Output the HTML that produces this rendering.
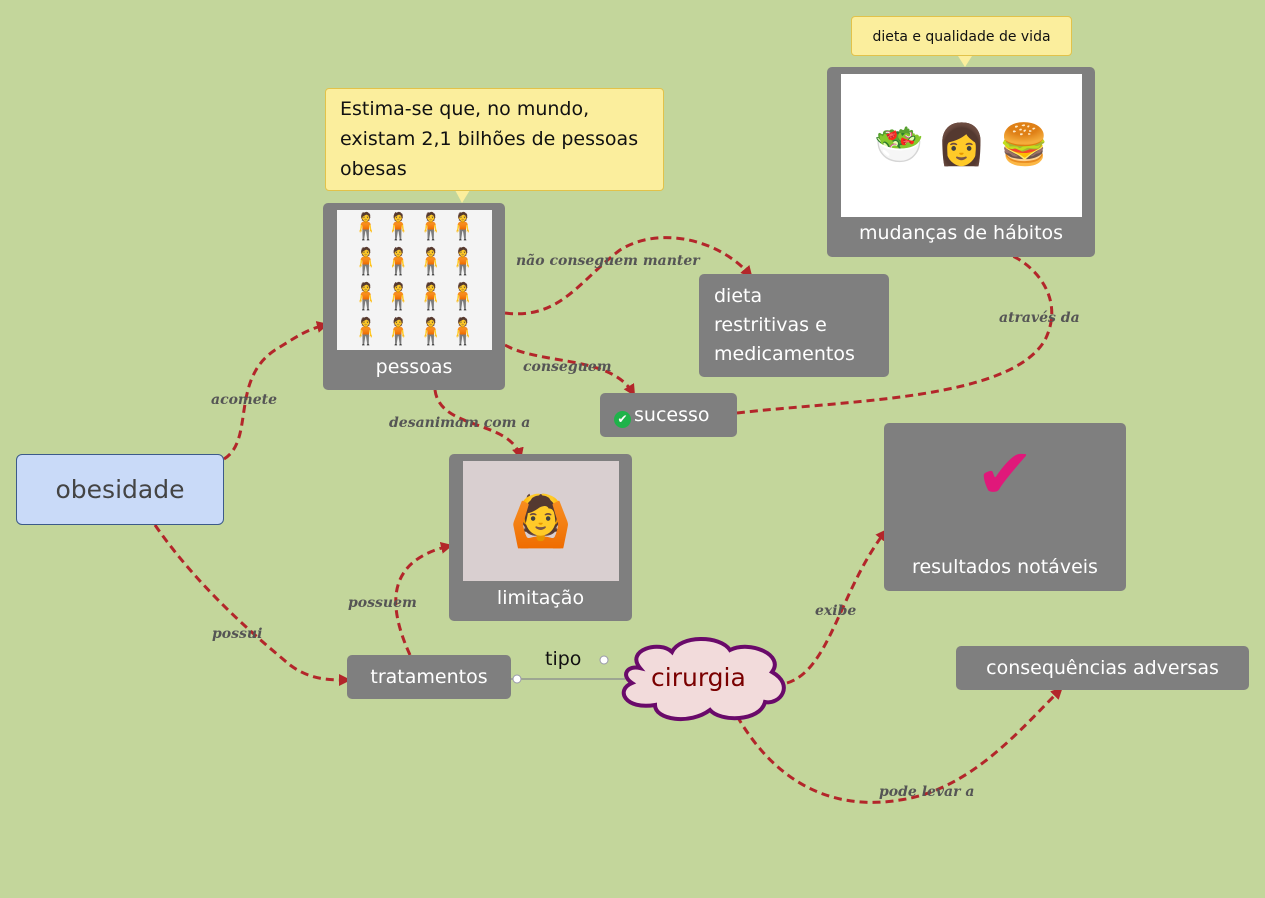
<!DOCTYPE html>
<html><head><meta charset="utf-8"><style>
body{margin:0;width:1265px;height:898px;background:#c3d69b;position:relative;overflow:hidden;font-family:"DejaVu Sans","Liberation Sans",sans-serif}
.n{position:absolute;background:#7f7f7f;border-radius:5px;color:#fff;font-size:19px}
.c{position:absolute;left:0;right:0;text-align:center}
.l{position:absolute;font-family:"DejaVu Serif","Liberation Serif",serif;font-style:italic;font-weight:bold;font-size:14px;color:#555;white-space:nowrap}
.y{position:absolute;background:#fbee9d;border:1px solid #e2c24a;border-radius:4px;color:#111}
</style></head><body>
<svg width="1265" height="898" style="position:absolute;left:0;top:0">
<defs><marker id="a" markerWidth="12" markerHeight="12" refX="8" refY="6" orient="auto" markerUnits="userSpaceOnUse" viewBox="0 0 12 12"><path d="M0,0 L12,6 L0,12z" fill="#b3262a"/></marker></defs>
<g fill="none" stroke="#b3262a" stroke-width="3" stroke-dasharray="8,5" marker-end="url(#a)">
<path d="M224,459 C255,440 230,380 275,350 C295,338 305,330 325,325"/>
<path d="M155,525 C200,590 260,640 290,665 C310,680 330,680 347,680"/>
<path d="M505,313 C560,320 580,280 620,250 C660,225 720,240 750,275"/>
<path d="M505,345 C540,365 610,355 633,393"/>
<path d="M435,390 C440,430 510,420 520,456"/>
<path d="M737,413 C850,400 1010,400 1045,340 C1070,290 1020,250 990,250"/>
<path d="M410,655 C385,600 390,560 449,546"/>
<path d="M787,683 C830,670 840,590 885,532"/>
<path d="M737,716 C780,790 840,810 900,800 C970,790 1020,730 1060,690"/>
</g>
<line x1="511" y1="679" x2="625" y2="679" stroke="#778" stroke-width="1"/>
<circle cx="517" cy="679" r="4" fill="#fff" stroke="#99a"/><circle cx="604" cy="660" r="4" fill="#fff" stroke="#99a"/>
<path d="M640,668 C625,650 660,640 672,652 C680,635 720,635 730,650 C750,640 785,655 772,672 C795,685 780,705 765,702 C760,722 720,722 710,710 C690,725 655,720 655,705 C625,710 615,690 632,683 C620,675 628,665 640,668z" fill="#f2dbdb" stroke="#6a0a6a" stroke-width="4"/>
<path d="M455,190 L462,203 L470,190z" fill="#fbee9d"/>
<path d="M958,56 L965,67 L972,56z" fill="#fbee9d"/>
</svg>
<div style="position:absolute;left:16px;top:454px;width:206px;height:69px;background:#c9daf8;border:1px solid #3c5a8a;border-radius:6px;font-size:25px;color:#444;text-align:center;line-height:69px">obesidade</div>
<div class="y" style="left:325px;top:88px;width:316px;height:89px;padding:5px 7px 7px 14px;font-size:19px;line-height:30px">Estima-se que, no mundo,<br>existam 2,1 bilhões de pessoas<br>obesas</div>
<div class="y" style="left:851px;top:16px;width:219px;height:38px;font-size:14px;line-height:40px;text-align:center">dieta e qualidade de vida</div>
<div class="n" style="left:323px;top:203px;width:182px;height:187px"><div style="position:absolute;left:14px;top:7px;width:155px;height:140px;background:#f4f4f4;font-size:26px;line-height:35px;text-align:center;overflow:hidden">🧍🧍🧍🧍<br>🧍🧍🧍🧍<br>🧍🧍🧍🧍<br>🧍🧍🧍🧍</div><div class="c" style="top:153px">pessoas</div></div>
<div class="n" style="left:827px;top:67px;width:268px;height:190px"><div style="position:absolute;left:14px;top:7px;width:241px;height:143px;background:#fff;font-size:40px;line-height:143px;text-align:center">🥗 👩 🍔</div><div class="c" style="top:155px">mudanças de hábitos</div></div>
<div class="n" style="left:699px;top:274px;width:190px;height:103px;padding:8px 0 0 15px;box-sizing:border-box;line-height:29px">dieta<br>restritivas e<br>medicamentos</div>
<div class="n" style="left:600px;top:393px;width:137px;height:44px;line-height:44px"><span style="display:inline-block;width:17px;height:17px;background:#1fb34a;border-radius:50%;color:#fff;font-size:12px;line-height:17px;text-align:center;margin:0 3px 0 14px;vertical-align:-2px">✔</span>sucesso</div>
<div class="n" style="left:449px;top:454px;width:183px;height:167px"><div style="position:absolute;left:14px;top:7px;width:156px;height:120px;background:#d9cfd0;font-size:50px;line-height:120px;text-align:center">🙆</div><div class="c" style="top:133px">limitação</div></div>
<div class="n" style="left:884px;top:423px;width:242px;height:168px"><div class="c" style="top:10px;font-size:70px;color:#e0187a">✔</div><div class="c" style="top:133px">resultados notáveis</div></div>
<div class="n" style="left:347px;top:655px;width:164px;height:44px;line-height:44px;text-align:center">tratamentos</div>
<div class="n" style="left:956px;top:646px;width:293px;height:44px;line-height:44px;text-align:center">consequências adversas</div>
<div style="position:absolute;left:651px;top:663px;font-size:25px;color:#7a0000">cirurgia</div>
<div style="position:absolute;left:545px;top:648px;font-size:19px;color:#111">tipo</div>
<div class="l" style="left:211px;top:392px">acomete</div>
<div class="l" style="left:212px;top:626px">possui</div>
<div class="l" style="left:516px;top:253px">não conseguem manter</div>
<div class="l" style="left:523px;top:359px">conseguem</div>
<div class="l" style="left:389px;top:415px">desanimam com a</div>
<div class="l" style="left:999px;top:310px">através da</div>
<div class="l" style="left:348px;top:595px">possuem</div>
<div class="l" style="left:815px;top:603px">exibe</div>
<div class="l" style="left:879px;top:784px">pode levar a</div>
</body></html>
